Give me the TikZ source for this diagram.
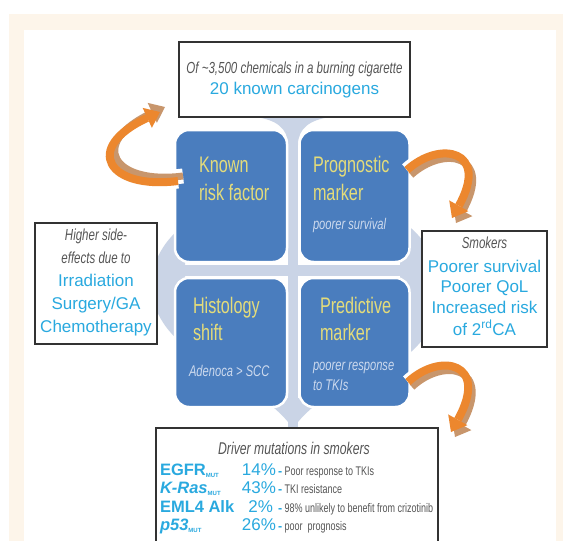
\documentclass[tikz,border=0pt]{standalone}
\usepackage{fontspec}
\setmainfont{Liberation Sans}
\newfontfamily\condf[FakeStretch=0.72]{Liberation Sans}
\usetikzlibrary{arrows.meta}
\definecolor{cream}{RGB}{253,245,234}
\definecolor{boxblue}{RGB}{74,125,190}
\definecolor{crossc}{RGB}{202,212,230}
\definecolor{cyanc}{RGB}{41,169,223}
\definecolor{grayt}{RGB}{85,85,85}
\definecolor{yell}{RGB}{228,220,122}
\definecolor{lightt}{RGB}{205,218,238}
\definecolor{orng}{RGB}{236,135,46}
\definecolor{tanc}{RGB}{200,150,108}
\definecolor{framec}{RGB}{50,50,50}
\newcommand\mutsub{\raisebox{-2.5pt}{\fontsize{6}{6}\selectfont\bfseries\upshape MUT}}
\newcommand\cyclearrow[3]{%
  \draw[arw,shift={(#2,#3)}] #1;
  \draw[arw] #1;
  \draw[art,shift={(#2,#3)}] #1;
  \draw[aro] #1;}
\begin{document}
\begin{tikzpicture}[x=1pt,y=-1pt,
  every node/.style={inner sep=0pt,outer sep=0pt},
  tbox/.style={draw=framec,line width=1.6pt,fill=white},
  bbox/.style={fill=boxblue,draw=white,line width=2.5pt,rounded corners=14pt},
  gi/.style={font=\condf\itshape\fontsize{16}{18}\selectfont,text=grayt,anchor=base},
  cy/.style={font=\fontsize{17}{20}\selectfont,text=cyanc,anchor=base},
  yt/.style={font=\condf\fontsize{22.5}{26}\selectfont,text=yell,anchor=base west},
  lt/.style={font=\condf\itshape\fontsize{15.5}{17}\selectfont,text=lightt,anchor=base west},
  lab/.style={font=\bfseries\fontsize{16.5}{18}\selectfont,text=cyanc,anchor=base west},
  pct/.style={font=\fontsize{17}{18}\selectfont,text=cyanc,anchor=base east},
  dsc/.style={font=\condf\fontsize{12.5}{14}\selectfont,text=grayt,anchor=base west},
  arw/.style={white,line width=15pt,-{Triangle[length=19pt,width=31pt,line width=0pt]}},
  art/.style={tanc,line width=7pt,-{Triangle[length=14pt,width=22pt,line width=0pt]}},
  aro/.style={orng,line width=8pt,-{Triangle[length=14pt,width=22pt,line width=0pt]}}]
\useasboundingbox (0,0) rectangle (563,541);
\clip (0,0) rectangle (563,541);
\fill[white] (0,0) rectangle (563,541);
\fill[cream] (9,14) rectangle (563,541);
\fill[white] (24,30) rectangle (556,541);

% background cross
\fill[crossc] (288,118) rectangle (298,428);
\fill[crossc] (160,265) rectangle (420,276);
\fill[crossc] (256,117) .. controls (276,120) and (288,128) .. (288,145) -- (298,145) .. controls (298,128) and (310,120) .. (330,117) -- cycle;
\fill[crossc] (262,398) .. controls (275,408) and (288,420) .. (293,429) .. controls (298,420) and (311,408) .. (324,398) -- cycle;
\fill[crossc] (185,225) .. controls (165,238) and (152,262) .. (150,285) .. controls (152,308) and (165,332) .. (185,345) -- cycle;
\fill[crossc] (400,220) .. controls (425,235) and (440,265) .. (445,290) .. controls (440,315) and (425,345) .. (400,360) -- cycle;

% blue boxes
\node[bbox,minimum width=112pt,minimum height=132pt] (kn) at (231,196) {};
\node[bbox,minimum width=110pt,minimum height=132pt] (pr) at (354.5,196) {};
\node[bbox,minimum width=112pt,minimum height=129pt] (hi) at (231,342.5) {};
\node[bbox,minimum width=110pt,minimum height=129pt] (pd) at (354.5,342.5) {};

\node[yt] (kn1) at (199,172) {Known};
\node[yt] (kn2) at (199,200) {risk factor};
\node[yt] (pr1) at (313,172) {Prognostic};
\node[yt] (pr2) at (313,200) {marker};
\node[lt] (pr3) at (313,229) {poorer survival};
\node[yt] (hi1) at (193,313) {Histology};
\node[yt] (hi2) at (193,340) {shift};
\node[lt] (hi3) at (189,376) {Adenoca > SCC};
\node[yt] (pd1) at (320,313) {Predictive};
\node[yt] (pd2) at (320,340) {marker};
\node[lt] (pd3) at (313,370) {poorer response};
\node[lt] (pd4) at (313,390) {to TKIs};

% orange curved arrows
\cyclearrow{(178,181) .. controls (108,190) and (82,148) .. (160,112)}{5}{-5}
\cyclearrow{(407,170) .. controls (440,140) and (490,150) .. (452,218)}{4}{5}
\cyclearrow{(408,382) .. controls (440,352) and (490,362) .. (451,432)}{4}{5}

% text boxes
\node[tbox,minimum width=231pt,minimum height=75pt] (top) at (294.5,79.5) {};
\node[gi] (top1) at (294.5,73) {Of \textasciitilde3,500 chemicals in a burning cigarette};
\node[cy] (top2) at (294.5,94) {20 known carcinogens};

\node[tbox,minimum width=122pt,minimum height=121pt] (lb) at (96,283.5) {};
\node[gi] (lb1) at (96,240) {Higher side-};
\node[gi] (lb2) at (96,263) {effects due to};
\node[cy] (lb3) at (96,286) {Irradiation};
\node[cy] (lb4) at (96,309) {Surgery/GA};
\node[cy] (lb5) at (96,332) {Chemotherapy};

\node[tbox,minimum width=125pt,minimum height=116pt] (rb) at (484.5,289) {};
\node[gi] (rb1) at (484.5,248) {Smokers};
\node[cy] (rb2) at (484.5,272) {Poorer survival};
\node[cy] (rb3) at (484.5,292) {Poorer QoL};
\node[cy] (rb4) at (484.5,313) {Increased risk};
\node[cy] (rb5) at (484.5,335) {of 2\textsuperscript{rd}CA};

\node[tbox,minimum width=282pt,minimum height=120pt] (bb) at (297,488) {};
\node[gi,font=\condf\itshape\fontsize{17}{19}\selectfont] (bb0) at (294,454) {Driver mutations in smokers};
\node[lab] (eg) at (160,475) {EGFR\mutsub};
\node[pct] (egp) at (276,475) {14\%};
\node[dsc] (egd) at (278,475) {\textcolor{cyanc}{\normalfont\bfseries -}\ Poor response to TKIs};
\node[lab,font=\bfseries\itshape\fontsize{16.5}{18}\selectfont] (kr) at (160,493) {K-Ras\mutsub};
\node[pct] (krp) at (276,493) {43\%};
\node[dsc] (krd) at (278,493) {\textcolor{cyanc}{\normalfont\bfseries -}\ TKI resistance};
\node[lab] (em) at (160,512) {EML4 Alk};
\node[pct] (emp) at (273,512) {2\%};
\node[dsc] (emd) at (278,512) {\textcolor{cyanc}{\normalfont\bfseries -}\ 98\% unlikely to benefit from crizotinib};
\node[lab,font=\bfseries\itshape\fontsize{16.5}{18}\selectfont] (p5) at (160,530) {p53\mutsub};
\node[pct] (p5p) at (276,530) {26\%};
\node[dsc] (p5d) at (278,530) {\textcolor{cyanc}{\normalfont\bfseries -}\ poor~ prognosis};
\end{tikzpicture}
\end{document}
